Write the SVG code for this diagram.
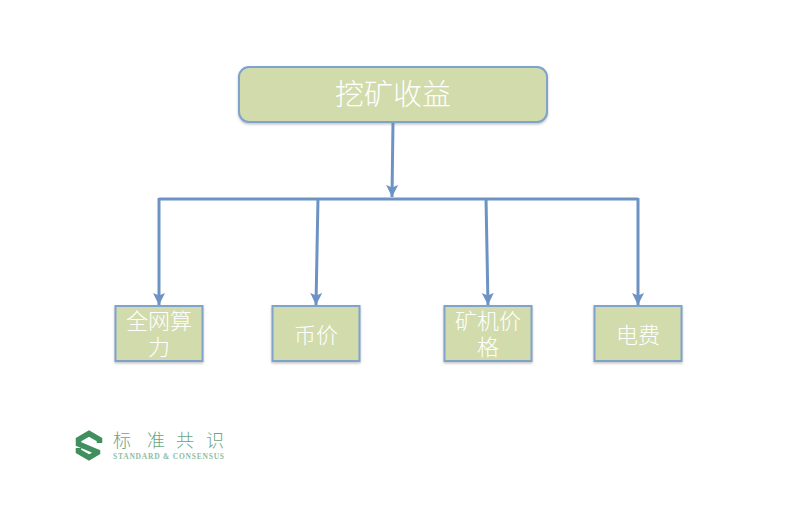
<svg xmlns="http://www.w3.org/2000/svg" width="800" height="509" viewBox="0 0 800 509">
<style>
.box{fill:#d2dbac;stroke:#7fa3cb;stroke-width:2;filter:url(#sh)}
.t{fill:#fff;font-family:"Liberation Sans","Noto Sans CJK SC",sans-serif;text-anchor:middle;font-weight:300}
.s{font-size:22px}
.c{fill:none;stroke:#6d93c4;stroke-width:3}
.lg{fill:#6aa583;font-family:"Noto Sans CJK SC",sans-serif;font-size:18px;font-weight:300}
.sg{fill:none;stroke:#3f8f5f;stroke-width:5.500;stroke-linejoin:miter}
</style>
<defs>
<filter id="sh" x="-10%" y="-10%" width="120%" height="125%"><feDropShadow dx="0" dy="1.500" stdDeviation="1.200" flood-color="#888" flood-opacity="0.5"/></filter>
<marker id="ar" viewBox="0 0 13 13" refX="12" refY="6.500" markerUnits="userSpaceOnUse" markerWidth="13" markerHeight="13" orient="auto"><path d="M0 0.500 L12 6.500 L0 12.500 L2.500 6.500Z" fill="#6d93c4"/></marker>
</defs>
<rect width="800" height="509" fill="#fff"/>
<g id="connectors">
<path class="c" d="M393 122 L392 197" marker-end="url(#ar)"/>
<path class="c" d="M159 199 H638"/>
<path class="c" d="M159 198 V305" marker-end="url(#ar)"/>
<path class="c" d="M318 198 L316 305" marker-end="url(#ar)"/>
<path class="c" d="M486 198 L488 305" marker-end="url(#ar)"/>
<path class="c" d="M638 198 V305" marker-end="url(#ar)"/>
</g>
<g id="root"><rect class="box" x="239" y="67" width="308" height="55" rx="10"/><text class="t" x="393" y="105" font-size="29">挖矿收益</text></g>
<g id="n1"><rect class="box" x="115.500" y="306" width="87" height="55"/><text class="t s" x="159" y="329">全网算</text><text class="t s" x="159" y="355">力</text></g>
<g id="n2"><rect class="box" x="272.500" y="306" width="87" height="55"/><text class="t s" x="316" y="343">币价</text></g>
<g id="n3"><rect class="box" x="444.500" y="306" width="87" height="55"/><text class="t s" x="488" y="329">矿机价</text><text class="t s" x="488" y="355">格</text></g>
<g id="n4"><rect class="box" x="594.500" y="306" width="87" height="55"/><text class="t s" x="638" y="343">电费</text></g>
<g id="logo">
<path class="sg" d="M99.500 443 V439.500 L89 433.500 L78.500 439.500 V444 L97.500 452 V452.500 L89 457.500 L78.500 451.500 V448"/>
<text class="lg" x="113" y="447">标</text><text class="lg" x="147" y="447">准</text><text class="lg" x="176" y="447">共</text><text class="lg" x="206" y="447">识</text>
<text x="113" y="459" fill="#8dbda1" font-family="Liberation Serif,serif" font-size="7.500" font-weight="700" textLength="111">STANDARD &amp; CONSENSUS</text>
</g>
</svg>
